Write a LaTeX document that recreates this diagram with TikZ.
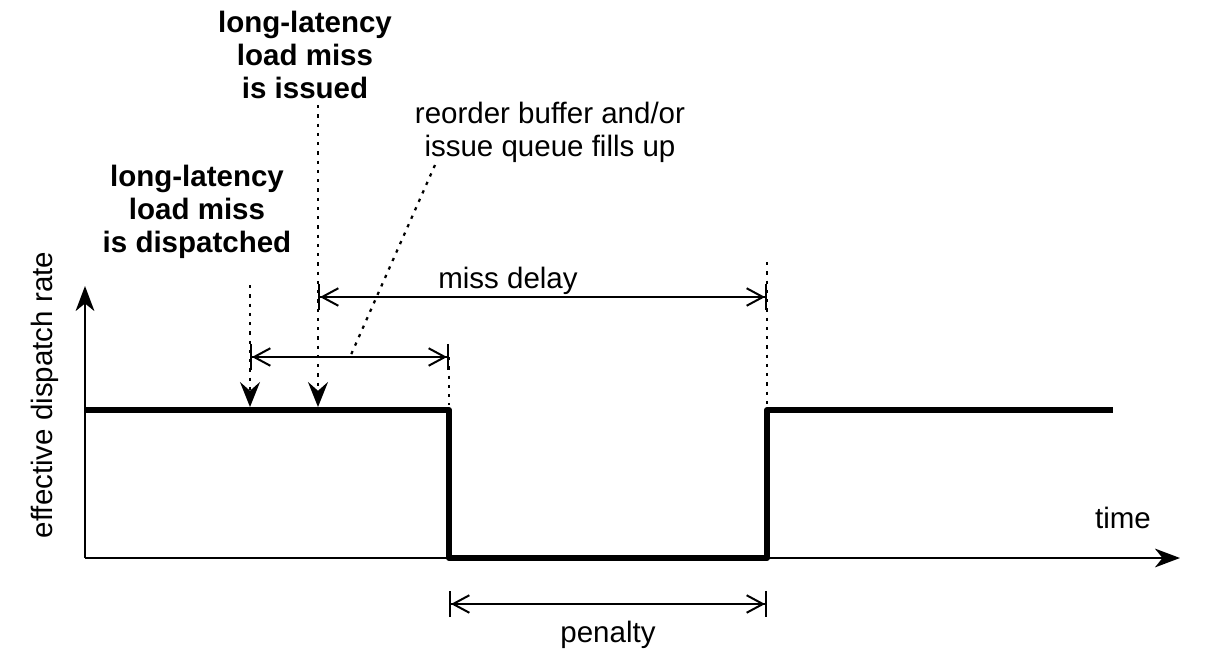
\documentclass[tikz,border=0pt]{standalone}
\usepackage{fontspec}
\setmainfont{Liberation Sans}
\usetikzlibrary{arrows.meta, positioning, calc}
\newcommand{\figfont}{\fontsize{11.8pt}{13.2pt}\selectfont}
\tikzstyle{rate} = [line width=2.4pt, line join=round]
\tikzstyle{axis} = [line width=0.8pt, -{Stealth[length=10pt,width=7.5pt,inset=3pt]}]
\tikzstyle{dim} = [line width=0.8pt, {Bar[width=10.5pt,sep=0pt]Straight Barb[length=6.5pt,width=7pt]}-{Straight Barb[length=6.5pt,width=7pt,sep=0pt]Bar[width=10.5pt]}]
\tikzstyle{leader} = [line width=0.9pt, dash pattern=on 1.3pt off 2.4pt]
\tikzstyle{pointer} = [leader, -{Stealth[length=10pt,width=8pt,inset=3.5pt]}, shorten >=1.2pt]
\tikzstyle{event} = [align=center, font=\figfont\bfseries, inner sep=0pt]
\tikzstyle{note} = [align=center, font=\figfont, inner sep=0pt]

\begin{document}
\begin{tikzpicture}[x=0.4pt, y=-0.4pt]
    \useasboundingbox (0,0) rectangle (1209,668);

    % axes
    \coordinate (origin) at (85,558);
    \coordinate (ytop) at (85,286);
    \coordinate (xend) at (1180,558);
    \draw[axis] (origin) -- (ytop);
    \draw[axis] (origin) -- (xend);
    \node (ylab) [note, rotate=90] at (45,395) {effective dispatch rate};
    \node (tlab) [note] at (1123,518) {time};

    % dispatch rate
    \coordinate (r0) at (85,410);
    \coordinate (fall) at (449,410);
    \coordinate (rise) at (767,410);
    \coordinate (r1) at (1113,410);
    \draw[rate] (r0) -- (fall) -- (fall |- origin) -- (rise |- origin) -- (rise) -- (r1);

    % events
    \node (disp) [event] at (197,212) {long-latency\\load miss\\is dispatched};
    \node (issue) [event] at (305,55) {long-latency\\load miss\\is issued};
    \node (rob) [note] at (550,132) {reorder buffer and/or\\issue queue fills up};

    \coordinate (dispTop) at (250,285);
    \coordinate (issueTop) at (318,105);
    \draw[pointer] (dispTop) -- (dispTop |- r0);
    \draw[pointer] (issueTop) -- (issueTop |- r0);

    % spans
    \coordinate (robL) at (250,357);
    \coordinate (robR) at (fall |- robL);
    \draw[dim] (robL) -- (robR);
    \coordinate (missL) at (318,297);
    \coordinate (missR) at (rise |- missL);
    \draw[dim] (missL) -- (missR);
    \node (delay) [note] at (508,281) {miss delay};
    \coordinate (penL) at (449,604);
    \coordinate (penR) at (rise |- penL);
    \draw[dim] (penL) -- (penR);
    \node (pen) [note] at (608,635) {penalty};

    % dotted guides
    \coordinate (robTail) at (435,165);
    \coordinate (robHit) at (350,357);
    \draw[leader] (robTail) -- (robHit);
    \draw[leader] (robR) -- ($(fall)+(0,-5)$);
    \coordinate (riseTop) at (767,262);
    \draw[leader] (riseTop) -- ($(rise)+(0,-5)$);
\end{tikzpicture}
\end{document}
